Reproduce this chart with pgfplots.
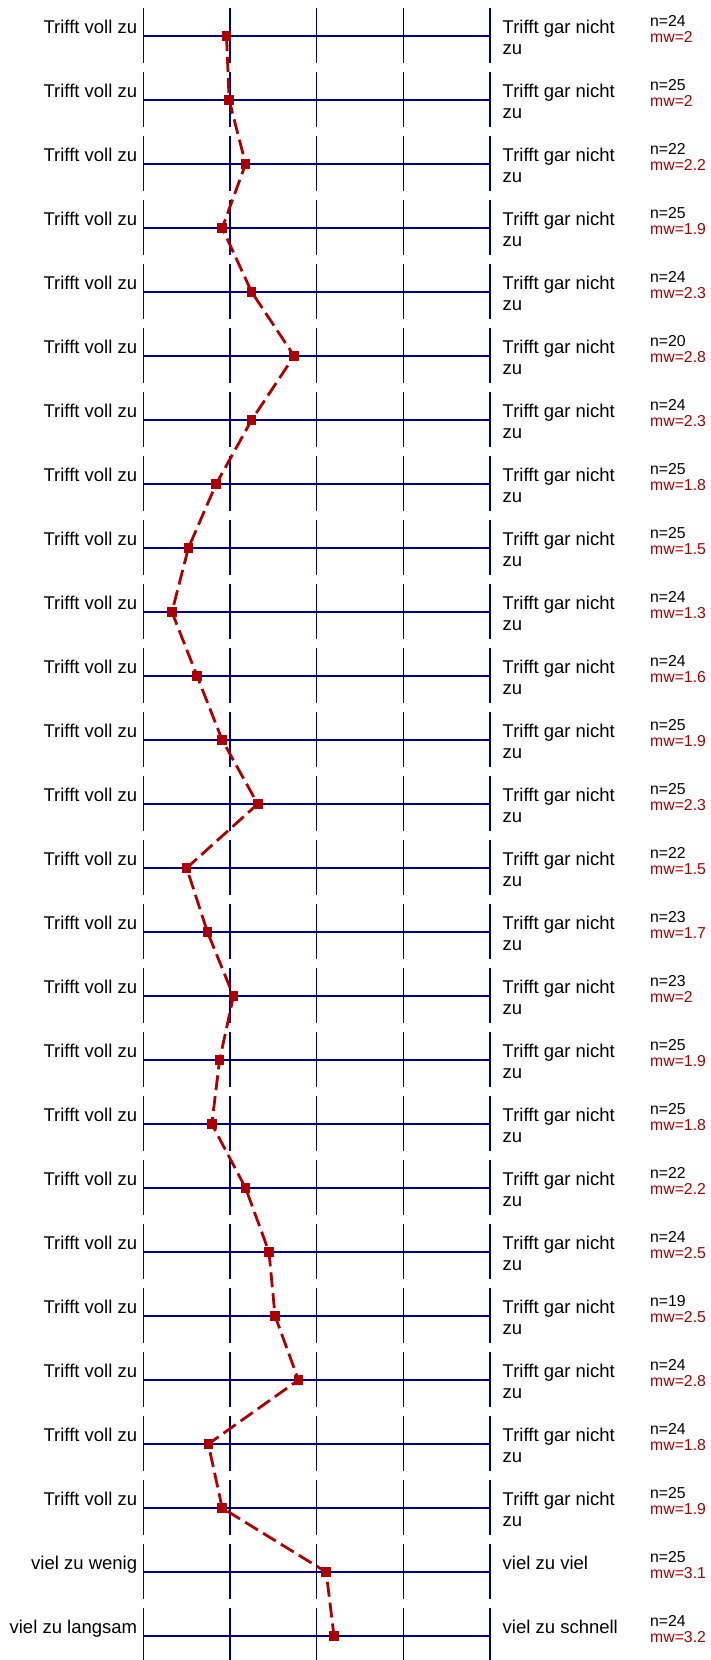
\documentclass[border=0pt]{standalone}
\usepackage{fontspec}
\setmainfont{Liberation Sans}
\usepackage{pgfplots}
\usepackage{pgfplotstable}
\pgfplotsset{compat=1.18}
\definecolor{navyline}{RGB}{0,0,128}
\definecolor{darkred}{RGB}{170,0,0}
\definecolor{mwred}{RGB}{160,0,0}
\newcommand{\lbl}{\fontsize{18.5}{22}\selectfont}
\newcommand{\sml}{\fontsize{15.8}{18}\selectfont}

\pgfplotstableread{
row val n mw
1 1.96 24 2
2 1.99 25 2
3 2.18 22 2.2
4 1.91 25 1.9
5 2.25 24 2.3
6 2.74 20 2.8
7 2.25 24 2.3
8 1.84 25 1.8
9 1.52 25 1.5
10 1.33 24 1.3
11 1.62 24 1.6
12 1.91 25 1.9
13 2.32 25 2.3
14 1.50 22 1.5
15 1.74 23 1.7
16 2.04 23 2
17 1.88 25 1.9
18 1.79 25 1.8
19 2.18 22 2.2
20 2.45 24 2.5
21 2.52 19 2.5
22 2.79 24 2.8
23 1.75 24 1.8
24 1.91 25 1.9
25 3.11 25 3.1
26 3.20 24 3.2
}\data

\begin{document}
\begin{tikzpicture}
\begin{axis}[name=ax,
  width=710pt, height=1660pt, scale only axis,
  xmin=-0.6538, xmax=7.5385,
  ymin=0.4375, ymax=26.375, y dir=reverse,
  hide axis, clip=false]

% vertical scale lines (segmented per row)
\pgfplotsinvokeforeach{1,...,5}{
  \draw[navyline, line width=1.4pt, dash pattern=on 55pt off 9pt]
    (axis cs:#1,0.5625) -- (axis cs:#1,26.375);
}
% horizontal lines
\pgfplotsinvokeforeach{1,...,26}{
  \draw[navyline, line width=1.5pt] (axis cs:1,#1) -- (axis cs:5,#1);
}
% pole labels
\pgfplotsinvokeforeach{1,...,24}{
  \node[anchor=base east, inner sep=0pt, font=\lbl] at ([xshift=-6pt,yshift=2.5pt]axis cs:1,#1) {Trifft voll zu};
  \node[anchor=base west, inner sep=0pt, font=\lbl] at ([xshift=12.5pt,yshift=2.5pt]axis cs:5,#1) {Trifft gar nicht};
  \node[anchor=base west, inner sep=0pt, font=\lbl] at ([xshift=12.5pt,yshift=-18pt]axis cs:5,#1) {zu};
}
\node[anchor=base east, inner sep=0pt, font=\lbl] at ([xshift=-6pt,yshift=2.5pt]axis cs:1,25) {viel zu wenig};
\node[anchor=base west, inner sep=0pt, font=\lbl] at ([xshift=12.5pt,yshift=2.5pt]axis cs:5,25) {viel zu viel};
\node[anchor=base east, inner sep=0pt, font=\lbl] at ([xshift=-6pt,yshift=2.5pt]axis cs:1,26) {viel zu langsam};
\node[anchor=base west, inner sep=0pt, font=\lbl] at ([xshift=12.5pt,yshift=2.5pt]axis cs:5,26) {viel zu schnell};

% n labels
\addplot[draw=none, mark=none, point meta=explicit symbolic,
  nodes near coords={n=\pgfplotspointmeta},
  every node near coord/.append style={anchor=base west, inner sep=0pt, font=\sml, text=black, yshift=10pt}]
  table[x expr=6.846, y=row, meta=n]{\data};
% mw labels
\addplot[draw=none, mark=none, point meta=explicit symbolic,
  nodes near coords={mw=\pgfplotspointmeta},
  every node near coord/.append style={anchor=base west, inner sep=0pt, font=\sml, text=mwred, yshift=-6pt}]
  table[x expr=6.846, y=row, meta=mw]{\data};

% profile line
\addplot[darkred, line width=2.8pt, dash pattern=on 15pt off 6pt,
  mark=square*, mark size=4.3pt,
  mark options={solid, fill=darkred, draw=darkred, line width=0pt}]
  table[x=val, y=row]{\data};
\end{axis}
\pgfresetboundingbox
\path[use as bounding box] (ax.south west) rectangle (ax.north east);
\end{tikzpicture}
\end{document}
